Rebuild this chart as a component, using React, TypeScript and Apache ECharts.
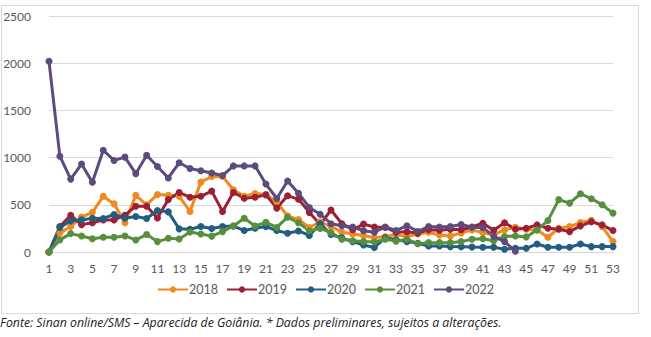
import React, { useEffect, useRef } from "react";
import * as echarts from "echarts";

const weeks: string[] = Array.from({ length: 53 }, (_, i) => String(i + 1));

const s2018 = [0,200,270,370,420,590,510,310,600,500,610,600,590,430,740,800,800,660,590,620,610,530,380,345,260,320,270,210,190,175,150,165,185,165,190,210,180,170,200,234,205,181,234,263,241,234,156,252,270,312,335,270,110];
const s2019 = [0,270,390,290,310,340,340,390,485,485,360,555,630,580,590,645,430,630,570,580,605,465,595,560,420,290,445,300,235,295,265,260,210,215,200,235,230,240,235,265,305,230,310,241,252,287,252,241,216,277,320,287,227];
const s2020 = [0,260,330,340,358,355,398,358,376,355,440,425,245,241,270,248,270,276,227,252,270,227,199,223,175,300,185,150,110,74,48,150,130,110,92,64,64,57,55,52,50,50,30,39,39,85,50,50,50,85,57,57,57];
const s2021 = [0,128,195,170,140,156,156,170,128,185,110,145,138,212,190,168,216,276,358,276,314,260,369,310,225,250,205,135,120,110,105,135,115,135,88,99,99,99,110,135,140,120,165,170,160,234,333,555,518,617,565,500,412];
const s2022: (number | null)[] = [2020,1015,772,932,738,1078,970,1005,830,1025,905,784,945,885,860,837,810,912,912,912,720,567,752,622,472,400,300,278,265,225,210,265,228,278,218,270,265,270,292,262,258,168,110,8,null,null,null,null,null,null,null,null,null];

const seriesNames = ["2018", "2019", "2020", "2021", "2022"];
const seriesData = [s2018, s2019, s2020, s2021, s2022];
const colors = ["#F0891E", "#9C2035", "#225E80", "#56903F", "#5E4A7C"];

export default function App() {
  const ref = useRef<HTMLDivElement>(null);
  useEffect(() => {
    document.body.style.margin = "0";
    const chart = echarts.init(ref.current!, undefined, { renderer: "svg" });
    const font = "Lato, 'DejaVu Sans', sans-serif";
    chart.setOption({
      animation: false,
      backgroundColor: "#ffffff",
      grid: { left: 49, right: 38, top: 16, bottom: 85 },
      xAxis: {
        type: "category",
        data: weeks,
        boundaryGap: false,
        axisLine: { show: true, lineStyle: { color: "#D9D9D9", width: 1 } },
        axisTick: { show: false },
        axisLabel: { interval: 1, color: "#595959", fontSize: 12, fontFamily: font, margin: 10 },
      },
      yAxis: {
        type: "value",
        min: 0,
        max: 2500,
        interval: 500,
        axisLine: { show: false },
        axisTick: { show: false },
        splitLine: { lineStyle: { color: "#D9D9D9", width: 1 } },
        axisLabel: {
          color: "#595959",
          fontSize: 12,
          fontFamily: font,
          margin: 18,
          formatter: (v: number) => String(v),
        },
      },
      legend: {
        data: seriesNames,
        bottom: 36,
        left: "center",
        itemWidth: 30,
        itemHeight: 8,
        itemGap: 8,
        textStyle: { color: "#595959", fontSize: 12.5, fontFamily: font, padding: [0, 0, 0, -4] },
      },
      graphic: [
        {
          type: "rect",
          left: -1,
          top: 3,
          shape: { width: 637, height: 308 },
          style: { fill: "none", stroke: "#D9D9D9", lineWidth: 1 },
          silent: true,
        },
        {
          type: "text",
          left: 0,
          top: 316,
          style: {
            text: "Fonte: Sinan online/SMS – Aparecida de Goiânia. * Dados preliminares, sujeitos a alterações.",
            font: "italic 12.3px 'Liberation Sans Narrow', 'Open Sans', sans-serif",
            fill: "#222222",
          },
        },
      ],
      series: seriesData.map((d, i) => ({
        name: seriesNames[i],
        type: "line",
        data: d,
        color: colors[i],
        symbol: "circle",
        symbolSize: 7,
        lineStyle: { width: 3, color: colors[i] },
        itemStyle: { color: colors[i] },
        connectNulls: false,
      })),
    });
    return () => chart.dispose();
  }, []);
  return <div ref={ref} style={{ width: 651, height: 337 }} />;
}
